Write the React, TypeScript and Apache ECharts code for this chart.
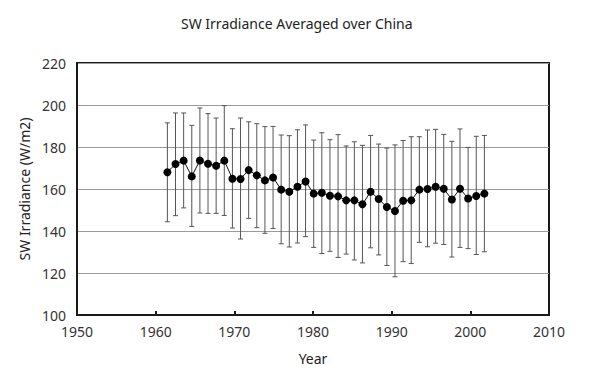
import React, { useEffect, useRef } from "react";
import * as echarts from "echarts";

const years = [
  1961, 1962, 1963, 1964, 1965, 1966, 1967, 1968, 1969, 1970,
  1971, 1972, 1973, 1974, 1975, 1976, 1977, 1978, 1979, 1980,
  1981, 1982, 1983, 1984, 1985, 1986, 1987, 1988, 1989, 1990,
  1991, 1992, 1993, 1994, 1995, 1996, 1997, 1998, 1999, 2000,
];
const meanValues = [
  168, 171.9, 173.5, 166, 173.6, 172, 171.1, 173.5, 164.9, 164.8,
  169, 166.5, 164.1, 165.5, 159.7, 158.7, 161.1, 163.6, 157.8, 158.2,
  156.8, 156.5, 154.6, 154.6, 152.7, 158.7, 155.2, 151.4, 149.5, 154.4,
  154.6, 159.7, 160, 161.1, 160.1, 155, 160.1, 155.5, 156.7, 157.8,
];
const upperValues = [
  191.5, 196.2, 196.2, 190.3, 198.6, 195.9, 193.8, 199.7, 188.7, 193.8,
  192, 191.1, 189.7, 189.8, 185.7, 185.4, 188.2, 190.5, 183.3, 186.8,
  183.5, 185.9, 180.5, 182.5, 180.8, 185.5, 181.4, 179.5, 181, 183.1,
  184.9, 184.9, 188.1, 188.4, 186, 182.7, 188.6, 179.8, 185.1, 185.5,
];
const lowerValues = [
  144.4, 147.3, 151, 142.2, 148.6, 148.4, 148.4, 147.4, 141.4, 136.2,
  146, 141.6, 138.9, 141.2, 133.9, 132.4, 134.3, 137.3, 132.2, 129.3,
  130.3, 127.4, 129, 126.2, 124.8, 132, 128.6, 123.6, 118.2, 125.4,
  124.5, 134.6, 132.5, 134.2, 133.6, 127.6, 132.2, 131.6, 128.8, 130.1,
];
const yTicks = { min: 100, max: 220, interval: 20 };
const xTicks = { min: 1950, max: 2010, interval: 10 };

const FONT = "'Noto Sans', 'DejaVu Sans', sans-serif";

export default function App() {
  const ref = useRef<HTMLDivElement>(null);
  useEffect(() => {
    if (!ref.current) return;
    const chart = echarts.init(ref.current, null, { renderer: "svg" });
    const lineData = years.map((y, i) => [y, meanValues[i]]);
    const errData = years.map((y, i) => [y, lowerValues[i], upperValues[i]]);
    chart.setOption({
      animation: false,
      backgroundColor: "#ffffff",
      title: {
        text: "SW Irradiance Averaged over China",
        left: 176,
        top: 11,
        textStyle: { fontFamily: FONT, fontSize: 14, fontWeight: "normal", color: "#222" },
      },
      grid: {
        left: 77,
        right: 51,
        top: 63,
        height: 252,
        show: true,
        borderColor: "#1a1a1a",
        borderWidth: 2,
      },
      xAxis: [
        {
          type: "value",
          min: xTicks.min,
          max: xTicks.max,
          interval: xTicks.interval,
          name: "Year",
          nameLocation: "middle",
          nameGap: 36,
          nameTextStyle: { fontFamily: FONT, fontSize: 14, color: "#222" },
          axisLine: { show: true, lineStyle: { color: "#1a1a1a", width: 2 } },
          axisTick: { show: true, inside: true, length: 4, lineStyle: { color: "#1a1a1a", width: 2 } },
          axisLabel: {
            fontFamily: FONT,
            fontSize: 14,
            color: "#333",
            margin: 9,
            formatter: (v: number) => String(v),
          },
          splitLine: { show: false },
        },
        {
          type: "value",
          min: 1949.88,
          max: 2007.95,
          show: false,
          position: "bottom",
          splitLine: { show: false },
        },
      ],
      yAxis: {
        type: "value",
        min: yTicks.min,
        max: yTicks.max,
        interval: yTicks.interval,
        name: "SW Irradiance (W/m2)",
        nameLocation: "middle",
        nameGap: 46,
        nameTextStyle: { fontFamily: FONT, fontSize: 14, color: "#222" },
        axisLine: { show: true, lineStyle: { color: "#1a1a1a", width: 2 } },
        axisTick: { show: false },
        axisLabel: { fontFamily: FONT, fontSize: 14, color: "#333", margin: 11 },
        splitLine: { show: true, lineStyle: { color: "#9a9a9a", width: 1 } },
      },
      series: [
        {
          type: "custom",
          xAxisIndex: 1,
          data: errData,
          z: 2,
          renderItem: (params: any, api: any) => {
            const x = api.value(0);
            const lo = api.coord([x, api.value(1)]);
            const hi = api.coord([x, api.value(2)]);
            const cap = 2.5;
            const style = { stroke: "#555", lineWidth: 1 };
            return {
              type: "group",
              children: [
                { type: "line", shape: { x1: hi[0], y1: hi[1], x2: lo[0], y2: lo[1] }, style },
                { type: "line", shape: { x1: hi[0] - cap, y1: hi[1], x2: hi[0] + cap, y2: hi[1] }, style },
                { type: "line", shape: { x1: lo[0] - cap, y1: lo[1], x2: lo[0] + cap, y2: lo[1] }, style },
              ],
            };
          },
        },
        {
          type: "line",
          xAxisIndex: 1,
          data: lineData,
          z: 3,
          symbol: "circle",
          symbolSize: 8,
          lineStyle: { color: "#111", width: 1 },
          itemStyle: { color: "#000", borderWidth: 0 },
        },
      ],
    });
    return () => chart.dispose();
  }, []);
  return <div ref={ref} style={{ width: 600, height: 378, position: "absolute", left: 0, top: 0 }} />;
}
